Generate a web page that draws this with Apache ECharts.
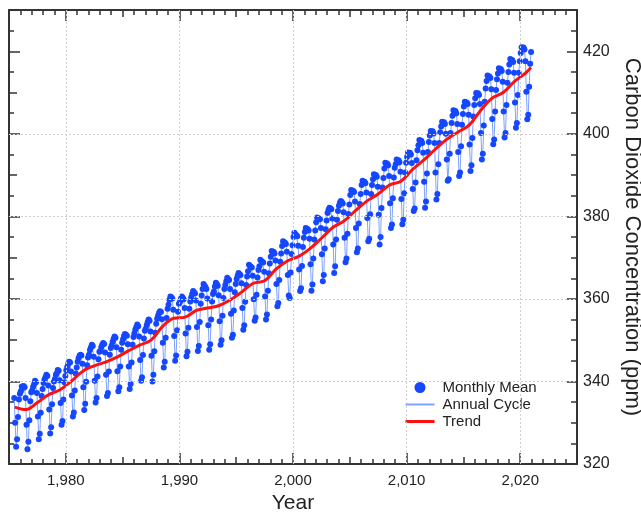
<!DOCTYPE html>
<html>
<head>
<meta charset="utf-8">
<script src="https://cdn.jsdelivr.net/npm/echarts@6.0.0/dist/echarts.min.js"></script>
<style>
  html, body { margin: 0; padding: 0; background: #fff; }
  #co2Chart { width: 641px; height: 512px; }
</style>
</head>
<body>
<div id="co2Chart"></div>
<script>
// monthly means, one row per year, Jan..Dec (ppm)
var years = [1975, 1976, 1977, 1978, 1979, 1980, 1981, 1982, 1983, 1984,
  1985, 1986, 1987, 1988, 1989, 1990, 1991, 1992, 1993, 1994,
  1995, 1996, 1997, 1998, 1999, 2000, 2001, 2002, 2003, 2004,
  2005, 2006, 2007, 2008, 2009, 2010, 2011, 2012, 2013, 2014,
  2015, 2016, 2017, 2018, 2019, 2020]

var monthlyMean = [
  [null, null, null, null, null, 336.0, 330.0, 324.2, 326.0, 331.4, 335.6, 337.0],
  [337.6, 338.8, 338.4, 338.9, 338.6, 336.0, 329.5, 323.6, 325.4, 330.6, 335.2, 337.4],
  [337.8, 338.7, 339.3, 340.2, 339.8, 337.2, 331.5, 326.0, 327.3, 332.4, 336.5, 338.2],
  [339.6, 340.5, 341.0, 341.6, 341.3, 339.0, 333.2, 327.4, 328.9, 334.5, 338.4, 340.0],
  [340.6, 341.6, 342.0, 342.8, 342.6, 340.3, 334.8, 329.5, 330.4, 335.6, 339.8, 341.3],
  [342.7, 343.5, 344.2, 344.8, 344.6, 342.4, 336.6, 331.5, 332.5, 337.8, 341.9, 343.4],
  [344.8, 345.6, 346.2, 346.5, 346.3, 344.3, 338.6, 333.1, 334.6, 339.9, 343.9, 345.8],
  [346.5, 347.6, 348.2, 348.9, 348.6, 346.0, 340.2, 334.9, 336.0, 341.2, 345.4, 347.2],
  [347.4, 348.3, 348.9, 349.3, 349.1, 347.0, 341.6, 336.5, 337.2, 342.4, 346.5, 348.1],
  [348.7, 349.6, 350.3, 350.9, 350.6, 348.3, 342.5, 337.6, 338.6, 343.6, 347.7, 349.4],
  [350.2, 351.0, 351.5, 351.3, 351.1, 349.0, 343.6, 338.2, 339.4, 344.6, 348.9, 350.8],
  [351.7, 352.6, 353.2, 353.8, 353.4, 350.9, 345.2, 340.2, 341.0, 346.4, 350.4, 352.3],
  [352.8, 353.7, 354.4, 355.0, 354.7, 352.1, 346.2, 340.0, 341.6, 347.3, 351.8, 354.0],
  [355.2, 356.0, 356.6, 357.0, 356.8, 355.1, 349.4, 343.4, 344.8, 350.6, 355.4, 357.6],
  [358.6, 359.8, 360.6, 360.4, 360.1, 357.4, 351.0, 345.0, 346.3, 352.4, 356.9, 358.8],
  [359.2, 360.0, 360.6, 360.3, 359.9, 357.8, 351.6, 346.1, 347.2, 353.0, 357.6, 359.4],
  [360.4, 361.2, 361.9, 361.6, 361.3, 359.6, 353.2, 347.4, 348.6, 354.4, 358.8, 360.8],
  [362.4, 363.6, 363.2, 362.9, 362.4, 360.1, 353.6, 347.7, 349.0, 355.0, 359.4, 361.2],
  [361.8, 363.0, 363.9, 363.6, 363.2, 360.9, 354.6, 348.9, 350.0, 355.9, 360.2, 362.4],
  [363.4, 364.3, 365.1, 364.8, 364.6, 362.4, 356.4, 350.6, 351.3, 357.2, 361.6, 363.6],
  [364.8, 365.6, 366.3, 366.0, 365.8, 363.8, 357.8, 352.5, 353.6, 359.3, 363.4, 365.4],
  [366.7, 368.3, 368.0, 367.8, 367.6, 365.6, 359.9, 354.7, 355.5, 361.0, 365.2, 367.0],
  [367.9, 369.5, 369.2, 369.0, 368.8, 366.6, 360.6, 355.0, 356.2, 362.0, 366.2, 368.6],
  [370.2, 371.6, 371.3, 371.4, 371.0, 369.3, 363.6, 358.2, 359.0, 364.6, 369.0, 371.0],
  [372.8, 374.0, 373.7, 373.6, 373.3, 371.4, 365.8, 360.8, 360.2, 366.4, 370.9, 373.0],
  [375.0, 376.0, 375.6, 375.4, 375.2, 372.9, 367.1, 361.9, 362.6, 368.0, 372.6, 374.8],
  [376.2, 377.2, 377.0, 376.9, 376.6, 374.6, 368.4, 362.0, 363.5, 369.8, 374.4, 376.6],
  [378.6, 379.7, 379.4, 379.5, 379.3, 377.2, 370.8, 364.3, 365.8, 372.2, 376.9, 379.0],
  [380.8, 381.6, 382.1, 381.9, 381.7, 379.5, 373.2, 366.3, 367.9, 374.4, 379.2, 381.3],
  [382.6, 383.3, 383.7, 383.5, 383.1, 381.0, 374.8, 368.9, 369.8, 375.8, 380.6, 382.9],
  [385.2, 386.4, 386.1, 386.2, 385.9, 383.6, 377.2, 371.3, 372.2, 378.3, 383.0, 385.4],
  [387.6, 388.6, 388.3, 388.4, 388.0, 385.8, 379.6, 374.0, 374.6, 380.5, 385.4, 387.6],
  [389.0, 390.2, 389.9, 390.0, 389.6, 387.2, 380.4, 373.2, 375.0, 382.0, 387.0, 389.3],
  [391.6, 393.0, 392.6, 392.8, 392.4, 389.8, 383.2, 377.2, 378.0, 384.4, 389.4, 391.8],
  [392.6, 393.8, 393.5, 393.6, 393.1, 390.8, 384.2, 378.1, 379.2, 385.6, 390.6, 393.0],
  [394.4, 395.5, 395.2, 395.4, 395.0, 392.9, 386.6, 381.3, 381.9, 388.2, 393.6, 396.0],
  [397.2, 398.5, 398.2, 398.3, 397.8, 395.4, 388.4, 382.1, 383.6, 390.4, 395.6, 398.0],
  [399.6, 400.7, 400.4, 400.6, 400.1, 397.8, 390.6, 384.1, 385.4, 392.6, 397.8, 400.4],
  [401.8, 402.9, 402.6, 402.8, 402.4, 400.0, 393.8, 388.6, 389.0, 395.2, 400.2, 402.6],
  [404.4, 405.7, 405.4, 405.5, 405.0, 402.4, 395.6, 389.8, 390.6, 397.0, 402.2, 404.8],
  [406.6, 407.8, 407.5, 407.6, 407.2, 404.6, 397.4, 391.0, 392.4, 399.0, 404.2, 407.0],
  [408.6, 409.9, 409.6, 409.8, 409.4, 407.2, 400.2, 393.8, 395.2, 402.0, 407.8, 411.0],
  [412.8, 414.1, 413.8, 413.9, 413.5, 410.8, 403.6, 397.5, 398.6, 405.4, 410.6, 413.2],
  [414.6, 415.9, 415.6, 415.7, 415.2, 412.6, 405.4, 399.1, 400.2, 407.0, 412.4, 415.0],
  [416.8, 418.1, 417.8, 417.9, 417.4, 414.8, 407.6, 401.5, 402.6, 409.4, 414.8, 417.6],
  [419.6, 421.0, 420.8, 420.9, 420.4, 417.6, 410.2, 403.5, 404.6, 411.4, 417.0, 419.8]
]

// smoothed trend (decimal year, ppm)
var trendYears = [1975.5, 1976.5, 1977.5, 1978.5, 1979.5, 1980.5, 1981.5, 1982.5, 1983.5, 1984.5,
  1985.5, 1986.5, 1987.5, 1988.5, 1989.5, 1990.5, 1991.5, 1992.5, 1993.5, 1994.5,
  1995.5, 1996.5, 1997.5, 1998.5, 1999.5, 2000.5, 2001.5, 2002.5, 2003.5, 2004.5,
  2005.5, 2006.5, 2007.5, 2008.5, 2009.5, 2010.5, 2011.5, 2012.5, 2013.5, 2014.5,
  2015.5, 2016.5, 2017.5, 2018.5, 2019.5, 2020.5, 2020.95]
var trendValues = [333.8, 333.2, 334.9, 336.8, 338.0, 340.1, 342.5, 343.8, 344.7, 345.9,
  347.4, 348.8, 350.0, 353.3, 355.3, 355.6, 357.2, 357.8, 358.4, 359.8,
  361.7, 363.8, 364.4, 367.2, 369.2, 370.3, 372.2, 374.7, 377.3, 378.9,
  381.4, 383.7, 385.4, 387.6, 388.5, 391.3, 393.6, 396.2, 398.6, 400.4,
  402.1, 405.6, 408.6, 410.0, 412.7, 414.8, 416.1]

// tick labels
var yearTicks = [1980, 1990, 2000, 2010, 2020]
var ppmTicks = [320, 340, 360, 380, 400, 420]
var gridPpm = [340, 360, 380, 400]

var FONT = 'Liberation Sans, Arial, Helvetica, sans-serif'
var AXIS = '#333'

var monthlyData = []
years.forEach(function (yr, i) {
  monthlyMean[i].forEach(function (v, m) {
    if (v !== null) monthlyData.push([yr + (m + 0.5) / 12, v])
  })
})
var trendData = trendYears.map(function (yr, i) {
  return [yr, trendValues[i]]
})

function xAx (pos, opts) {
  return Object.assign({
    type: 'value',
    position: pos,
    min: 1975,
    max: 2025,
    axisLine: { show: false },
    axisTick: { show: true, inside: true, length: 5, lineStyle: { color: AXIS, width: 1.5 } },
    axisLabel: { show: false },
    splitLine: { show: false }
  }, opts)
}
function yAx (pos, opts) {
  return Object.assign({
    type: 'value',
    position: pos,
    min: 320,
    max: 430,
    axisLine: { show: false },
    axisTick: { show: true, inside: true, length: 5, lineStyle: { color: AXIS, width: 1.5 } },
    axisLabel: { show: false },
    splitLine: { show: false }
  }, opts)
}

var option = {
  animation: false,
  backgroundColor: '#fff',
  textStyle: { fontFamily: FONT },
  grid: { left: 9, right: 64, top: 10, bottom: 48, outerBoundsMode: 'none', containLabel: false },
  legend: {
    orient: 'vertical',
    left: 404,
    top: 380,
    padding: 0,
    itemWidth: 29,
    itemHeight: 11,
    itemGap: 2,
    selectedMode: false,
    textStyle: { fontSize: 15, color: '#222', fontFamily: FONT, padding: [0, 0, 0, 3] },
    data: [
      { name: 'Monthly Mean', icon: 'circle' },
      { name: 'Annual Cycle', itemStyle: { opacity: 0 } },
      { name: 'Trend', itemStyle: { opacity: 0 }, lineStyle: { width: 3 } }
    ]
  },
  xAxis: [
    xAx('bottom', {
      name: 'Year',
      nameLocation: 'middle',
      nameGap: 23,
      nameTextStyle: { fontSize: 21, color: '#222', fontFamily: FONT },
      axisLine: { show: true, lineStyle: { color: AXIS, width: 2 } },
      axisTick: { show: true, inside: true, length: 11, customValues: yearTicks, lineStyle: { color: AXIS, width: 1.5 } },
      axisLabel: { show: true, customValues: yearTicks, margin: 9, fontSize: 15, color: '#222', fontFamily: FONT }
    }),
    xAx('bottom', { interval: 5, axisTick: { show: true, inside: true, length: 7, lineStyle: { color: AXIS, width: 1.5 } } }),
    xAx('bottom', { interval: 1 }),
    xAx('top', {
      axisLine: { show: true, lineStyle: { color: AXIS, width: 2 } },
      axisTick: { show: true, inside: true, length: 11, customValues: yearTicks, lineStyle: { color: AXIS, width: 1.5 } }
    }),
    xAx('top', { interval: 5, axisTick: { show: true, inside: true, length: 7, lineStyle: { color: AXIS, width: 1.5 } } }),
    xAx('top', { interval: 1 })
  ],
  yAxis: [
    yAx('right', {
      name: 'Carbon Dioxide Concentration (ppm)',
      nameLocation: 'middle',
      nameRotate: -90,
      nameGap: 41,
      nameTextStyle: { fontSize: 22, color: '#222', fontFamily: FONT },
      axisLine: { show: true, lineStyle: { color: AXIS, width: 2 } },
      axisTick: { show: true, inside: true, length: 10, customValues: ppmTicks, lineStyle: { color: AXIS, width: 1.5 } },
      axisLabel: { show: true, customValues: ppmTicks, margin: 6, fontSize: 16, color: '#222', fontFamily: FONT }
    }),
    yAx('right', { interval: 5, axisTick: { show: true, inside: true, length: 6, lineStyle: { color: AXIS, width: 1.5 } } }),
    yAx('left', {
      axisLine: { show: true, lineStyle: { color: AXIS, width: 2 } },
      axisTick: { show: true, inside: true, length: 11, customValues: ppmTicks, lineStyle: { color: AXIS, width: 1.5 } }
    }),
    yAx('left', { interval: 10, axisTick: { show: true, inside: true, length: 8, lineStyle: { color: AXIS, width: 1.5 } } }),
    yAx('left', { interval: 5 })
  ],
  series: [
    {
      name: 'Annual Cycle',
      type: 'line',
      data: monthlyData,
      symbol: 'none',
      z: 1,
      lineStyle: { color: '#7ea2ff', width: 1 },
      itemStyle: { color: '#7ea2ff' },
      markLine: {
        silent: true,
        symbol: ['none', 'none'],
        label: { show: false },
        lineStyle: { type: [2, 2], color: '#cfcfcf', width: 1 },
        data: yearTicks.map(function (v) { return { xAxis: v } })
          .concat(gridPpm.map(function (v) { return { yAxis: v } }))
      }
    },
    {
      name: 'Monthly Mean',
      type: 'scatter',
      data: monthlyData,
      symbolSize: 6,
      z: 2,
      itemStyle: { color: '#1447ff', opacity: 1 }
    },
    {
      name: 'Trend',
      type: 'line',
      data: trendData,
      smooth: 0.4,
      symbol: 'none',
      z: 3,
      lineStyle: { color: '#ff1010', width: 3 },
      itemStyle: { color: '#ff1010' }
    }
  ]
}

var myChart = echarts.init(document.getElementById('co2Chart'))
myChart.setOption(option)
</script>
</body>
</html>
